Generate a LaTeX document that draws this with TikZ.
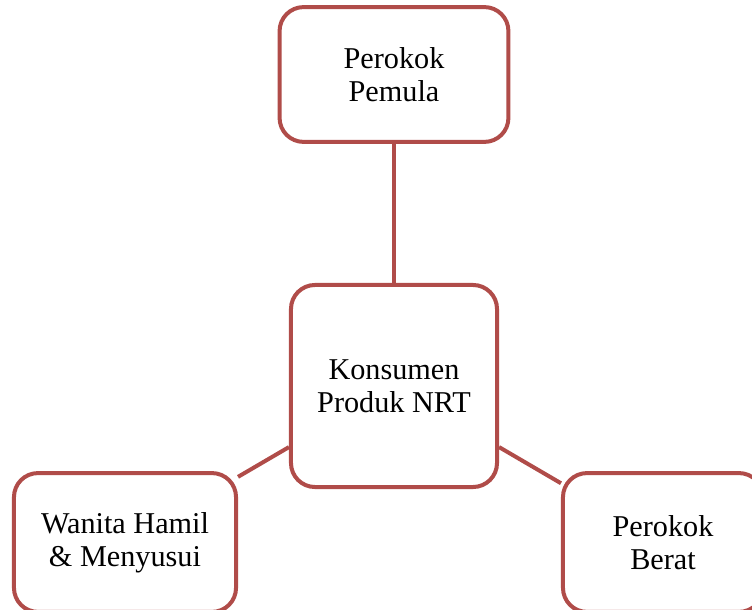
\documentclass[tikz,border=0pt]{standalone}
\usepackage{fontspec}
\setmainfont{Liberation Serif}
\definecolor{borde}{RGB}{176,76,73}
\begin{document}
\begin{tikzpicture}[
    x=0.025cm, y=-0.025cm,
    box/.style={
        rectangle,
        draw=borde,
        line width=0.1cm,
        rounded corners=0.6cm,
        fill=white,
        align=center,
        font=\fontsize{21.5}{23.5}\selectfont,
        inner sep=0pt
    },
    enlace/.style={
        draw=borde,
        line width=0.1cm
    }
]

% Marco
\useasboundingbox (0,0) rectangle (752,610);
\clip (0,0) rectangle (752,610);

% Nodos
\node[box, minimum width=5.72cm, minimum height=3.37cm] (pemula) at (394,74.5) {Perokok\\Pemula};
\node[box, minimum width=5.15cm, minimum height=5.05cm] (konsumen) at (394,386) {Konsumen\\Produk NRT};
\node[box, minimum width=5.55cm, minimum height=3.47cm] (wanita) at (125,542.5) {Wanita Hamil\\\& Menyusui};
\node[box, minimum width=5.0cm, minimum height=3.47cm] (berat) at (663,542.5) {Perokok\\Berat};

% Conectores
\draw[enlace] (pemula) -- (konsumen);
\draw[enlace] (konsumen) -- (wanita);
\draw[enlace] (konsumen) -- (berat);

\end{tikzpicture}
\end{document}
